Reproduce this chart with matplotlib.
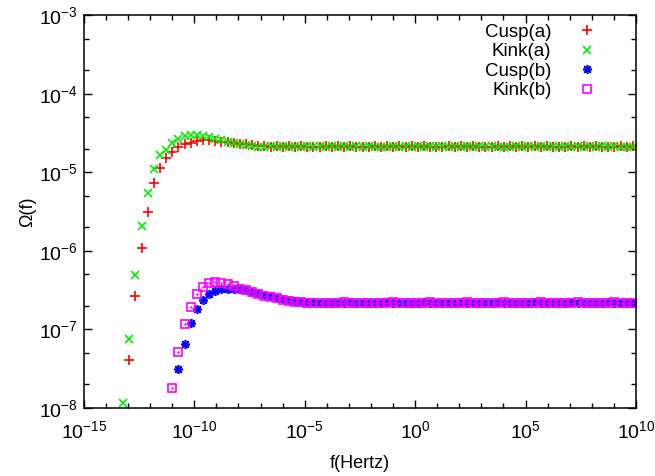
import numpy as np
import matplotlib
matplotlib.use("Agg")
import matplotlib.pyplot as plt
from matplotlib.ticker import LogLocator, FixedLocator, NullFormatter

plt.rcParams['font.family'] = ['Liberation Sans', 'DejaVu Sans']
plt.rcParams['mathtext.fontset'] = 'custom'
plt.rcParams['mathtext.rm'] = 'Liberation Sans'
plt.rcParams['mathtext.default'] = 'regular'

# frequency grid: log10(f), same grid for all four curves
f0, df, nf = -13.22, 0.278, 84
logf = f0 + df * np.arange(nf)

# log10 Omega(f)
cusp_a = [-7.39, -6.58, -5.96, -5.50, -5.13, -4.94, -4.82, -4.74, -4.68, -4.64,
          -4.625, -4.605, -4.59, -4.59, -4.599, -4.609, -4.620, -4.629, -4.635, -4.644,
          -4.654, -4.660, -4.667,
          -4.676, -4.670, -4.675, -4.671, -4.677, -4.670, -4.674, -4.672, -4.676, -4.670,
          -4.675, -4.671, -4.677, -4.670, -4.675, -4.672, -4.676, -4.670, -4.674, -4.671,
          -4.676, -4.671, -4.675, -4.670, -4.677, -4.671, -4.674, -4.672, -4.676, -4.670,
          -4.675, -4.671, -4.676, -4.670, -4.675, -4.672, -4.677, -4.670, -4.674, -4.671,
          -4.676, -4.670, -4.675, -4.671, -4.677, -4.670, -4.674, -4.672, -4.676, -4.670,
          -4.675, -4.671, -4.676, -4.670, -4.675, -4.672, -4.677, -4.670, -4.674, -4.671]
kink_a = [-7.94, -7.12, -6.31, -5.68, -5.26, -4.955, -4.78, -4.71, -4.625, -4.57,
          -4.54, -4.527, -4.527, -4.54, -4.552, -4.571, -4.59, -4.612, -4.629, -4.645,
          -4.658, -4.667, -4.673, -4.679,
          -4.670, -4.677, -4.671, -4.676, -4.670, -4.675, -4.671, -4.677, -4.670, -4.676,
          -4.671, -4.675, -4.670, -4.677, -4.671, -4.676, -4.670, -4.675, -4.672, -4.677,
          -4.670, -4.676, -4.671, -4.675, -4.670, -4.677, -4.671, -4.676, -4.670, -4.675,
          -4.671, -4.677, -4.670, -4.676, -4.671, -4.675, -4.670, -4.677, -4.672, -4.676,
          -4.670, -4.675, -4.671, -4.677, -4.670, -4.676, -4.671, -4.675, -4.670, -4.677,
          -4.671, -4.676, -4.670, -4.675, -4.671, -4.677, -4.670, -4.676, -4.672, -4.675]
cusp_b = [-7.51, -7.18, -6.915, -6.74, -6.63, -6.55, -6.51, -6.49, -6.486, -6.486,
          -6.49, -6.50, -6.52, -6.54, -6.56, -6.58, -6.60, -6.615, -6.63, -6.64,
          -6.65, -6.655,
          -6.657, -6.662, -6.659, -6.663, -6.658, -6.661, -6.657, -6.663, -6.659, -6.662,
          -6.658, -6.662, -6.657, -6.661, -6.659, -6.663, -6.658, -6.662, -6.657, -6.661,
          -6.659, -6.662, -6.658, -6.663, -6.657, -6.661, -6.659, -6.662, -6.658, -6.662,
          -6.657, -6.663, -6.659, -6.661, -6.658, -6.662, -6.657, -6.662, -6.659, -6.663,
          -6.658, -6.661, -6.657, -6.662, -6.659, -6.662, -6.658, -6.663, -6.657, -6.661,
          -6.659, -6.662, -6.658]
kink_b = [-7.75, -7.29, -6.935, -6.71, -6.55, -6.46, -6.41, -6.40, -6.405, -6.42,
          -6.45, -6.48, -6.50, -6.52, -6.55, -6.575, -6.59, -6.605, -6.62, -6.635,
          -6.645, -6.652, -6.658,
          -6.662, -6.658, -6.663, -6.659, -6.661, -6.657, -6.662, -6.659, -6.663, -6.658,
          -6.662, -6.658, -6.661, -6.657, -6.663, -6.659, -6.662, -6.658, -6.661, -6.657,
          -6.662, -6.659, -6.663, -6.658, -6.662, -6.657, -6.661, -6.659, -6.663, -6.658,
          -6.662, -6.657, -6.661, -6.659, -6.662, -6.658, -6.663, -6.657, -6.662, -6.659,
          -6.661, -6.658, -6.662, -6.657, -6.663, -6.659, -6.662, -6.658, -6.661, -6.657,
          -6.662, -6.659, -6.663]

labels = ['Cusp(a)', 'Kink(a)', 'Cusp(b)', 'Kink(b)']
series = [cusp_a, kink_a, cusp_b, kink_b]
colors = ['#ff0000', '#00ee00', '#0000ff', '#ff00ff']

fig = plt.figure(figsize=(6.55, 4.76), dpi=100)
ax = fig.add_axes([0.128, 0.143, 0.843, 0.825])

for lab, ys, c in zip(labels, series, colors):
    x = 10 ** logf[nf - len(ys):]
    y = 10 ** np.array(ys)
    if lab == 'Cusp(a)':
        ax.plot(x, y, ls='', marker='+', ms=6.5, mew=1.2, color=c, label=lab)
    elif lab == 'Kink(a)':
        ax.plot(x, y, ls='', marker='x', ms=5.5, mew=1.2, color=c, label=lab)
    elif lab == 'Cusp(b)':
        ax.plot(x, y, ls='', marker=(8, 2, 0), ms=6.5, mew=1.2, color=c, label=lab)
    else:
        ax.plot(x, y, ls='', marker='s', ms=5.2, mew=1.2, mfc='none', color=c, label=lab)
        ax.plot(x, y, ls='', marker='.', ms=1.5, color=c)

ax.set_xscale('log')
ax.set_yscale('log')
ax.set_xlim(1e-15, 1e10)
ax.set_ylim(1e-8, 1e-3)

ax.xaxis.set_major_locator(FixedLocator([10.0 ** e for e in range(-15, 11, 5)]))
ax.xaxis.set_minor_locator(FixedLocator([10.0 ** e for e in range(-15, 11)]))
ax.xaxis.set_minor_formatter(NullFormatter())
ax.set_xticklabels(['$10^{%d}$' % e for e in range(-15, 11, 5)])
ax.yaxis.set_major_locator(FixedLocator([10.0 ** e for e in range(-8, -2)]))
ax.yaxis.set_minor_locator(LogLocator(base=10, subs=(2.0, 5.0), numticks=20))
ax.yaxis.set_minor_formatter(NullFormatter())
ax.set_yticklabels(['$10^{%d}$' % e for e in range(-8, -2)])

ax.tick_params(which='both', direction='in', top=True, right=True, labelsize=14, width=1)
ax.tick_params(which='major', length=6)
ax.tick_params(which='minor', length=3.5)
ax.tick_params(axis='x', which='major', pad=9)
ax.tick_params(axis='y', which='major', pad=4)
for s in ax.spines.values():
    s.set_linewidth(1.1)

ax.set_xlabel('f(Hertz)', fontsize=13, labelpad=9)
ax.set_ylabel('Ω(f)', fontsize=13, labelpad=2)

ax.legend(loc='upper right', frameon=False, markerfirst=False, fontsize=13.5,
          handlelength=1.0, handletextpad=1.4, labelspacing=0.12,
          borderaxespad=0.0, bbox_to_anchor=(0.942, 0.997))

fig.savefig('out.png', dpi=100)
